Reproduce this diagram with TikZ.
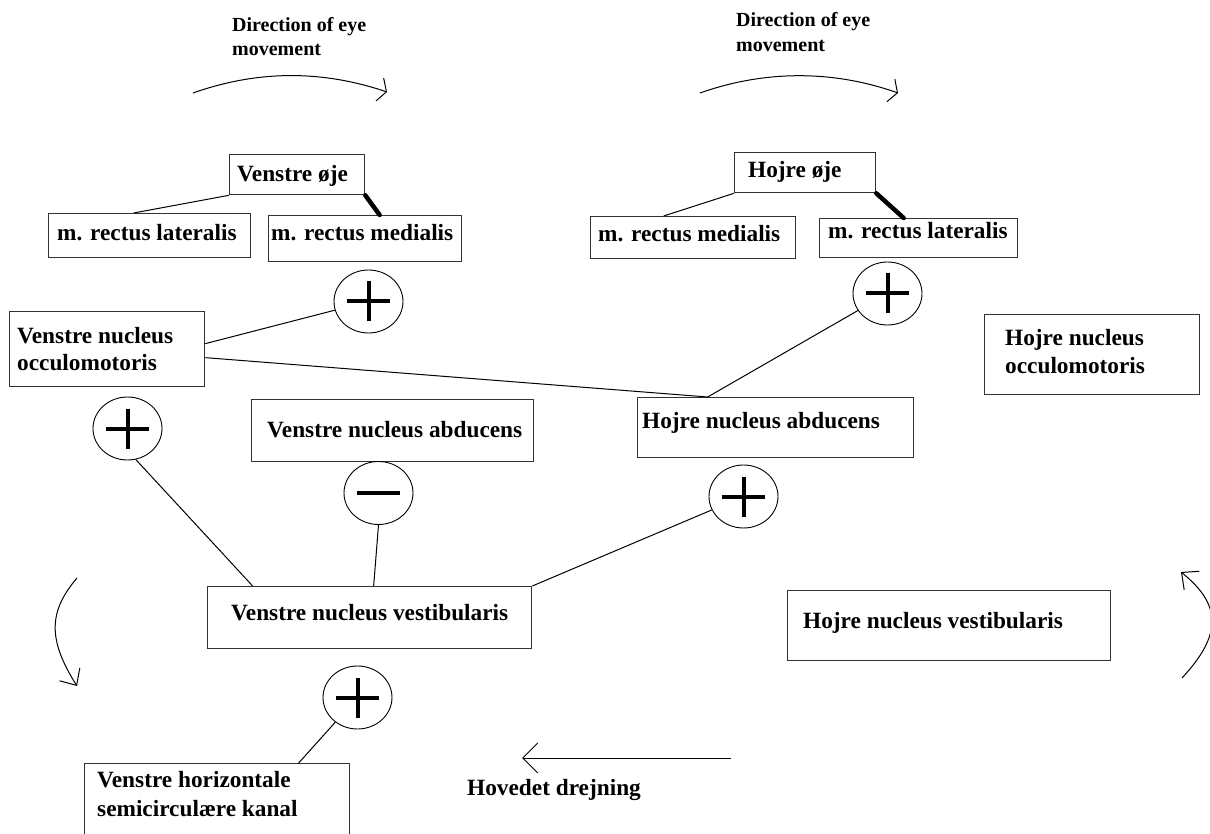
\documentclass[tikz,border=0pt]{standalone}
\usepackage{fontspec}
\setmainfont{Liberation Serif}
\usetikzlibrary{arrows.meta,shapes.geometric}
\begin{document}
\begin{tikzpicture}[x=1pt,y=-1pt,
  box/.style={draw=black!80,line width=1.3pt,rectangle,inner sep=0pt,anchor=north west},
  lbl/.style={anchor=base west,inner sep=0pt,font=\bfseries\fontsize{23.3}{28}\selectfont},
  dirlbl/.style={anchor=base west,inner sep=0pt,font=\bfseries\fontsize{20}{25}\selectfont},
  sign/.style={draw,ellipse,minimum width=69pt,minimum height=63pt,inner sep=0pt,line width=0.9pt},
  plus/.style={sign,path picture={\draw[line width=4pt]
      ([xshift=-21.5pt]path picture bounding box.center) -- ([xshift=21.5pt]path picture bounding box.center)
      ([yshift=-20pt]path picture bounding box.center) -- ([yshift=20pt]path picture bounding box.center);}},
  minus/.style={sign,path picture={\draw[line width=4.5pt]
      ([xshift=-21.5pt]path picture bounding box.center) -- ([xshift=21.5pt]path picture bounding box.center);}},
  wire/.style={line width=1pt},
  muscle/.style={line width=4.5pt,line cap=round},
  sweep/.style={line width=1pt,-{Straight Barb[length=7pt,width=24pt]}},
  swing/.style={line width=1pt,-{Straight Barb[length=13pt,width=24pt]}},
]
\useasboundingbox (0,0) rectangle (1210,834);

% ---- eyes and their muscles ----
\node[box,minimum width=135pt,minimum height=40pt] (vo) at (229,154) {};
\node[lbl] (vo-t) at (237,182) {Venstre øje};
\node[box,minimum width=202pt,minimum height=44pt] (llat) at (48,213) {};
\node[lbl] (llat-t) at (57,241) {m. rectus lateralis};
\node[box,minimum width=193pt,minimum height=46pt] (lmed) at (268,215) {};
\node[lbl] (lmed-t) at (271,241) {m. rectus medialis};

\node[box,minimum width=141pt,minimum height=40pt] (ho) at (734,152) {};
\node[lbl] (ho-t) at (748,178) {Hojre øje};
\node[box,minimum width=205pt,minimum height=42pt] (rmed) at (590,216) {};
\node[lbl] (rmed-t) at (598,242) {m. rectus medialis};
\node[box,minimum width=198pt,minimum height=39pt] (rlat) at (819,218) {};
\node[lbl] (rlat-t) at (828,239) {m. rectus lateralis};

% ---- nuclei ----
\node[box,minimum width=195pt,minimum height=75pt] (vocc) at (9,311) {};
\node[lbl] (vocc-t1) at (17,343) {Venstre nucleus};
\node[lbl] (vocc-t2) at (17,370) {occulomotoris};
\node[box,minimum width=215pt,minimum height=80pt] (hocc) at (984,314) {};
\node[lbl] (hocc-t1) at (1005,345) {Hojre nucleus};
\node[lbl] (hocc-t2) at (1005,373) {occulomotoris};
\node[box,minimum width=282pt,minimum height=62pt] (va) at (251,399) {};
\node[lbl] (va-t) at (267,437) {Venstre nucleus abducens};
\node[box,minimum width=276pt,minimum height=60pt] (ha) at (637,397) {};
\node[lbl] (ha-t) at (642,428) {Hojre nucleus abducens};
\node[box,minimum width=324pt,minimum height=62pt] (vv) at (207,586) {};
\node[lbl] (vv-t) at (231,620) {Venstre nucleus vestibularis};
\node[box,minimum width=323pt,minimum height=70pt] (hv) at (787,590) {};
\node[lbl] (hv-t) at (803,628) {Hojre nucleus vestibularis};
\node[box,minimum width=265pt,minimum height=100pt] (hk) at (84,763) {};
\node[lbl] (hk-t1) at (97,787) {Venstre horizontale};
\node[lbl] (hk-t2) at (97,816) {semicirculære kanal};

% ---- excitation / inhibition signs ----
\node[plus] (pl1) at (368.5,301.5) {};
\node[plus] (pr1) at (887.5,293.5) {};
\node[plus] (pl2) at (127.5,428.5) {};
\node[minus] (pm) at (378.5,493) {};
\node[plus] (pr2) at (743.5,496.5) {};
\node[plus] (pb) at (357.5,697.5) {};

% ---- connections ----
\draw[wire] (vo.south west) -- ([xshift=-16pt]llat.north);
\draw[muscle] (vo.south east) -- ([xshift=14.5pt]lmed.north);
\draw[wire] (ho.south west) -- ([xshift=-29.5pt]rmed.north);
\draw[muscle] (ho.south east) -- ([xshift=-15pt]rlat.north);

\draw[wire] ([yshift=5.5pt]vocc.east) -- (pl1);
\coordinate (hatop) at ([xshift=-68pt]ha.north);
\draw[wire] ([yshift=-8.5pt]vocc.east) -- (hatop) -- (pr1);
\draw[wire] (pl2.-75) -- ([xshift=-117pt]vv.north);
\draw[wire] (pm.south) -- ([xshift=4pt]vv.north);
\draw[wire] (vv.north east) -- (pr2);
\draw[wire] (pb) -- ([xshift=81.5pt]hk.north);

% ---- direction of eye movement ----
\node[dirlbl] (d1a) at (232,32) {Direction of eye};
\node[dirlbl] (d1b) at (232,56) {movement};
\node[dirlbl] (d2a) at (736,27) {Direction of eye};
\node[dirlbl] (d2b) at (736,52) {movement};
\coordinate (e1s) at (193,93);
\coordinate (e1e) at (387,92);
\coordinate (e2s) at (700,93);
\coordinate (e2e) at (898,93);
\draw[sweep] (e1s) .. controls (258,70) and (322,70) .. (e1e);
\draw[sweep] (e2s) .. controls (765,70) and (833,70) .. (e2e);

% ---- head rotation ----
\coordinate (hds) at (731,758);
\coordinate (hde) at (522,758);
\draw[line width=1pt,-{Straight Barb[length=15pt,width=30pt]}] (hds) -- (hde);
\node[lbl] (hd-t) at (467,795) {Hovedet drejning};

\coordinate (c1s) at (77,578);
\coordinate (c1e) at (77,686);
\draw[swing] (c1s) .. controls (48,612) and (48,640) .. (c1e);
\coordinate (c2s) at (1182,678);
\coordinate (c2e) at (1181,572);
\draw[swing] (c2s) .. controls (1222,635) and (1222,605) .. (c2e);
\end{tikzpicture}
\end{document}
